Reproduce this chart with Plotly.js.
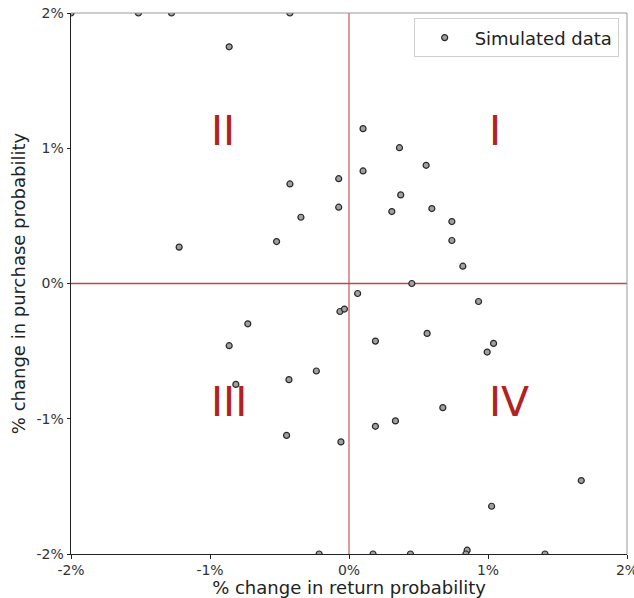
<!DOCTYPE html>
<html>
<head>
<meta charset="utf-8">
<script src="https://cdn.plot.ly/plotly-3.0.1.min.js"></script>
<style>html,body{margin:0;padding:0;background:#fff;}#chart{width:634px;height:598px;}</style>
</head>
<body>
<div id="chart"></div>
<script>
// % change in return probability (x), % change in purchase probability (y), in percent
const returnChange = [
  -2.0, -1.515, -1.277, -0.425, -0.862, -0.425, -0.346, -0.521, -1.222,
  0.101, 0.363, 0.555, 0.101, -0.074, 0.372, -0.074, 0.308, 0.596, 0.740, 0.740, 0.819, 0.452,
  0.062, -0.065, -0.033, 0.932, 0.562, 0.190, 1.040, 0.994, 0.675, 0.334, 0.190, -0.058,
  1.671, 1.026, -0.728, -0.862, -0.814, -0.432, -0.235, -0.449,
  -0.215, 0.173, 0.442, 0.850, 0.841, 1.410
];
const purchaseChange = [
  2.0, 2.0, 2.0, 2.0, 1.750, 0.736, 0.490, 0.310, 0.269,
  1.145, 1.004, 0.874, 0.832, 0.775, 0.655, 0.564, 0.532, 0.554, 0.458, 0.318, 0.128, 0.0,
  -0.074, -0.207, -0.189, -0.133, -0.369, -0.426, -0.443, -0.507, -0.918, -1.016, -1.056, -1.171,
  -1.457, -1.647, -0.298, -0.460, -0.746, -0.711, -0.647, -1.123,
  -2.0, -2.0, -2.0, -1.972, -2.0, -2.0
];
const tickValues = [-2, -1, 0, 1, 2];
const tickLabels = ["-2%", "-1%", "0%", "1%", "2%"];
const quadrantNames = ["I", "II", "III", "IV"];
const quadrantX = [1, -1, -1, 1];
const quadrantY = [1, 1, -1, -1];

const FONT = "DejaVu Sans, sans-serif";
const RED = "#b22222";
const LINE_RED = "rgb(195,70,70)";

const trace = {
  x: returnChange, y: purchaseChange,
  type: "scatter", mode: "markers", name: "Simulated data",
  marker: {symbol: "circle", size: 6, color: "rgb(160,160,160)",
           line: {color: "rgb(40,40,40)", width: 1.2}},
  cliponaxis: true
};

const annotations = quadrantNames.map((t, i) => ({
  x: quadrantX[i], y: quadrantY[i], xref: "x", yref: "y",
  text: t, showarrow: false, xanchor: "left", yanchor: "bottom",
  yshift: -9, xshift: -1,
  font: {family: FONT, size: 41, color: RED}
}));

const axisCommon = {
  range: [-2, 2], tickvals: tickValues, ticktext: tickLabels,
  showgrid: false, zeroline: false,
  showline: true, linecolor: "#222", linewidth: 1,
  ticks: "outside", ticklen: 3.5, tickcolor: "#222",
  ticklabeloverflow: "allow",
  tickfont: {family: FONT, size: 14, color: "#333"}
};

const layout = {
  width: 634, height: 598,
  margin: {l: 71, r: 7, t: 13, b: 44},
  paper_bgcolor: "#fff", plot_bgcolor: "#fff",
  font: {family: FONT, color: "#333"},
  showlegend: true,
  legend: {x: 0.985, y: 0.99, xanchor: "right", yanchor: "top",
           bordercolor: "#d0d0d0", borderwidth: 1, bgcolor: "rgba(255,255,255,0.8)",
           itemwidth: 50,
           font: {family: FONT, size: 18, color: "#222"}},
  xaxis: Object.assign({}, axisCommon, {
          title: {text: "% change in return probability", font: {family: FONT, size: 18, color: "#222"}, standoff: 5}}),
  yaxis: Object.assign({}, axisCommon, {
          title: {text: "% change in purchase probability", font: {family: FONT, size: 18, color: "#222"}, standoff: 6}}),
  shapes: [
    {type: "line", xref: "x", yref: "y", x0: 0, x1: 0, y0: -2, y1: 2, line: {color: LINE_RED, width: 1.1}, layer: "below"},
    {type: "line", xref: "x", yref: "y", x0: -2, x1: 2, y0: 0, y1: 0, line: {color: LINE_RED, width: 1.4}, layer: "below"},
    {type: "line", xref: "paper", yref: "paper", x0: 0, x1: 1, y0: 1, y1: 1, line: {color: "#999", width: 1}},
    {type: "line", xref: "paper", yref: "paper", x0: 1, x1: 1, y0: 0, y1: 1, line: {color: "#999", width: 1}}
  ],
  annotations: annotations
};

Plotly.newPlot("chart", [trace], layout, {displayModeBar: false, staticPlot: true});
</script>
</body>
</html>
